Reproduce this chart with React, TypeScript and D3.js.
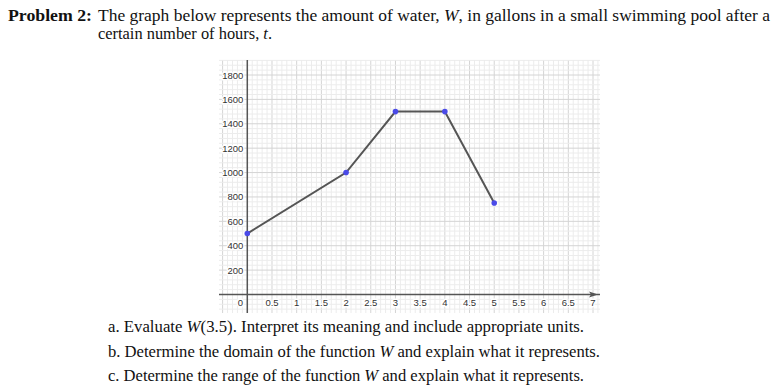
import React from "react";
import * as d3 from "d3";

const hours = [0, 2, 3, 4, 5];
const gallons = [500, 1000, 1500, 1500, 750];
const xTicks = [0.5, 1, 1.5, 2, 2.5, 3, 3.5, 4, 4.5, 5, 5.5, 6, 6.5, 7];
const yTicks = [200, 400, 600, 800, 1000, 1200, 1400, 1600, 1800];

const serif = "'Liberation Serif', 'DejaVu Serif', serif";
const sans = "'Liberation Sans', Arial, sans-serif";

export default function App() {
  const x = d3.scaleLinear().domain([0, 7]).range([247.3, 593]);
  const y = d3.scaleLinear().domain([0, 1800]).range([294.5, 75]);
  const left = 219, right = 600, top = 60, bottom = 313;
  const t0 = x.invert(left), t1 = x.invert(right);
  const w0 = y.invert(bottom), w1 = y.invert(top);

  const minorX: number[] = [];
  for (let i = Math.ceil(t0 * 10); i <= Math.floor(t1 * 10); i++) minorX.push(i / 10);
  const minorY: number[] = [];
  for (let i = Math.ceil(w0 / 40); i <= Math.floor(w1 / 40); i++) minorY.push(i * 40);

  const line = d3.line<number>().x((_, i) => x(hours[i])).y((d) => y(d));
  const pts = gallons.map((g, i) => ({ t: hours[i], g }));
  const adj = "spacingAndGlyphs";

  return (
    <svg width={779} height={386} style={{ position: "absolute", left: 0, top: 0, background: "#fff" }}>
      {/* header */}
      <text x={8} y={21} fontFamily={serif} fontSize={16} fill="#111" fontWeight="bold" textLength={84} lengthAdjust={adj}>
        Problem 2:
      </text>
      <text x={98} y={21} fontFamily={serif} fontSize={16} fill="#111" textLength={672} lengthAdjust={adj}>
        The graph below represents the amount of water, <tspan fontStyle="italic">W</tspan>, in gallons in a small swimming pool after a
      </text>
      <text x={98} y={39} fontFamily={serif} fontSize={16} fill="#111" textLength={174} lengthAdjust={adj}>
        certain number of hours, <tspan fontStyle="italic">t</tspan>.
      </text>

      {/* grid */}
      <g>
        {minorX.map((t) => {
          const major = Math.abs(t * 2 - Math.round(t * 2)) < 1e-6;
          return (
            <line key={"gx" + t} x1={x(t)} x2={x(t)} y1={top} y2={bottom}
              stroke={major ? "#d4d4d4" : "#ececec"} strokeWidth={1} />
          );
        })}
        {minorY.map((w) => {
          const major = w % 200 === 0;
          return (
            <line key={"gy" + w} x1={left} x2={right} y1={y(w)} y2={y(w)}
              stroke={major ? "#d4d4d4" : "#ececec"} strokeWidth={1} />
          );
        })}
      </g>

      {/* axes */}
      <line x1={x(0)} x2={x(0)} y1={top} y2={bottom} stroke="#555" strokeWidth={1.5} />
      <line x1={left} x2={right} y1={y(0)} y2={y(0)} stroke="#555" strokeWidth={1.5} />
      <path d={`M${right - 2},${y(0)} L${right - 11},${y(0) - 3} L${right - 9},${y(0)} L${right - 11},${y(0) + 3} Z`} fill="#555" />

      {/* tick labels */}
      <g fontFamily={sans} fontSize={9.5} fill="#333" stroke="#fff" strokeWidth={3} paintOrder="stroke" strokeLinejoin="round">
        {yTicks.map((v) => (
          <text key={"yt" + v} x={x(0) - 4} y={y(v) + 3.5} textAnchor="end">{v}</text>
        ))}
        {xTicks.map((v) => (
          <text key={"xt" + v} x={x(v)} y={y(0) + 11.5} textAnchor="middle">{v}</text>
        ))}
        <text x={x(0) - 7} y={y(0) + 11.5} textAnchor="middle">0</text>
      </g>

      {/* data */}
      <path d={line(gallons) || ""} fill="none" stroke="#555" strokeWidth={2} />
      {pts.map((p) => (
        <circle key={"p" + p.t} cx={x(p.t)} cy={y(p.g)} r={2.8} fill="#4a4ae8" />
      ))}

      {/* questions */}
      <g fontFamily={serif} fontSize={16} fill="#111">
        <text x={108} y={332} textLength={476} lengthAdjust={adj}>
          a. Evaluate <tspan fontStyle="italic">W</tspan>(3.5). Interpret its meaning and include appropriate units.
        </text>
        <text x={108} y={357} textLength={492} lengthAdjust={adj}>
          b. Determine the domain of the function <tspan fontStyle="italic">W</tspan> and explain what it represents.
        </text>
        <text x={108} y={381} textLength={476} lengthAdjust={adj}>
          c. Determine the range of the function <tspan fontStyle="italic">W</tspan> and explain what it represents.
        </text>
      </g>
    </svg>
  );
}
